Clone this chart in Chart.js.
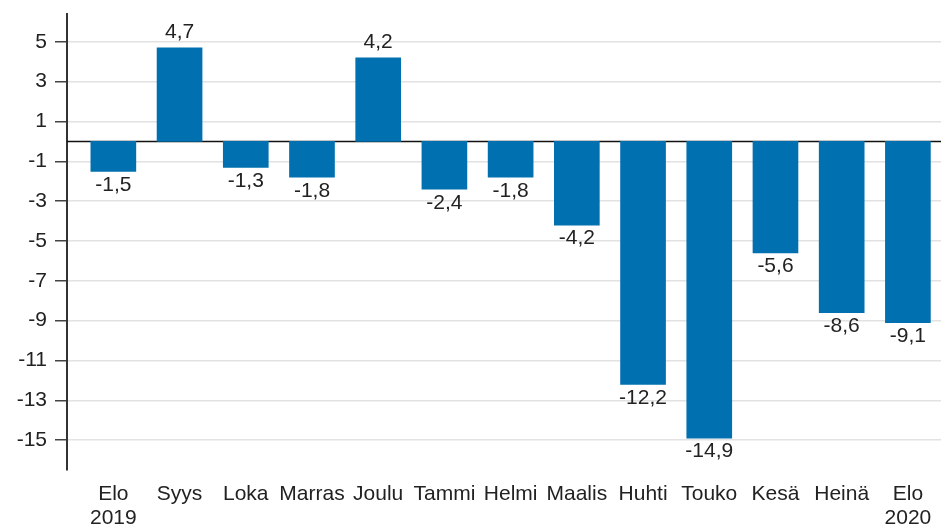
<!DOCTYPE html>
<html>
<head>
<meta charset="utf-8">
<script src="https://cdn.jsdelivr.net/npm/chart.js@4"></script>
<style>
  body { margin: 0; background: #fff; }
</style>
</head>
<body>
<canvas id="myChart" width="941" height="529"></canvas>
<script>
  const months = [['Elo', '2019'], 'Syys', 'Loka', 'Marras', 'Joulu', 'Tammi', 'Helmi', 'Maalis', 'Huhti', 'Touko', 'Kesä', 'Heinä', ['Elo', '2020']];
  const values = [-1.5, 4.7, -1.3, -1.8, 4.2, -2.4, -1.8, -4.2, -12.2, -14.9, -5.6, -8.6, -9.1];
  const yTicks = [5, 3, 1, -1, -3, -5, -7, -9, -11, -13, -15];

  const FONT = '"Liberation Sans", Arial, sans-serif';
  const fmt = v => String(v).replace('.', ',');

  // zero line and value labels
  const extras = {
    id: 'extras',
    beforeDatasetsDraw(chart) {
      const c = chart.ctx;
      const y = chart.scales.y.getPixelForValue(0);
      c.save();
      c.strokeStyle = '#111';
      c.lineWidth = 1.5;
      c.beginPath();
      c.moveTo(chart.chartArea.left, y);
      c.lineTo(chart.chartArea.right, y);
      c.stroke();
      c.restore();
    },
    afterDatasetsDraw(chart) {
      const c = chart.ctx;
      const meta = chart.getDatasetMeta(0);
      c.save();
      c.font = '21px ' + FONT;
      c.fillStyle = '#222';
      c.textAlign = 'center';
      meta.data.forEach((bar, i) => {
        const v = values[i];
        if (v >= 0) {
          c.textBaseline = 'alphabetic';
          c.fillText(fmt(v), bar.x, bar.y - 10);
        } else {
          c.textBaseline = 'top';
          c.fillText(fmt(v), bar.x, bar.y + 3);
        }
      });
      c.restore();
    }
  };

  new Chart(document.getElementById('myChart'), {
    type: 'bar',
    data: {
      datasets: [{
        data: values.map((v, i) => ({ x: i, y: v })),
        backgroundColor: '#0070b0',
        barThickness: 45
      }]
    },
    options: {
      responsive: false,
      animation: false,
      layout: { padding: { top: 14, right: 0, left: 0, bottom: 0 } },
      plugins: { legend: { display: false }, tooltip: { enabled: false } },
      scales: {
        x: {
          type: 'linear',
          offset: false,
          min: -0.7,
          max: 12.5,
          afterBuildTicks: s => { s.ticks = months.map((_, i) => ({ value: i })); },
          afterFit: s => { s.height = 59; s.paddingLeft = 0; s.paddingRight = 0; },
          grid: { display: false },
          border: { display: false },
          ticks: {
            autoSkip: false,
            maxRotation: 0,
            padding: 4,
            color: '#222',
            font: { family: FONT, size: 21, lineHeight: 1.15 },
            callback: v => months[v]
          }
        },
        y: {
          min: -16.5,
          max: 6.4,
          afterBuildTicks: s => { s.ticks = yTicks.map(v => ({ value: v })); },
          afterFit: s => { s.width = 67; s.paddingTop = 0; s.paddingBottom = 0; },
          border: { display: true, color: '#333', width: 2 },
          grid: { color: '#e2e2e2', lineWidth: 1.5, tickColor: '#444', tickLength: 12 },
          ticks: {
            padding: 8,
            color: '#222',
            font: { family: FONT, size: 21 },
            callback: v => fmt(v)
          }
        }
      }
    },
    plugins: [extras]
  });
</script>
</body>
</html>
